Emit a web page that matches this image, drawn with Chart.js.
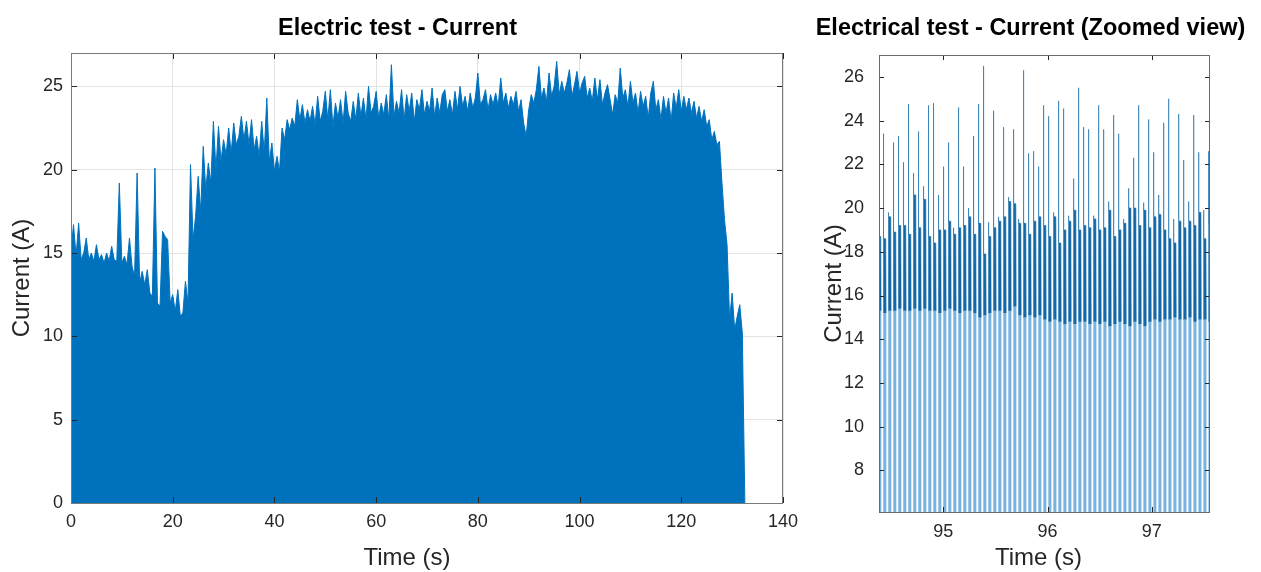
<!DOCTYPE html>
<html>
<head>
<meta charset="utf-8">
<title>Electrical test - Current</title>
<script src="https://cdn.jsdelivr.net/npm/chart.js@4.4.1/dist/chart.umd.min.js"></script>
<style>
  html, body { margin: 0; padding: 0; background: #ffffff; width: 1261px; height: 572px; overflow: hidden; position: relative; }
  .panel { position: absolute; top: 0; height: 572px; }
  #fullPanel { left: -15px; width: 825px; }
  #zoomPanel { left: 800px; width: 461px; }
</style>
</head>
<body>
<div id="zoomPanel" class="panel"><canvas id="zoomChart" width="461" height="572"></canvas></div>
<div id="fullPanel" class="panel"><canvas id="fullChart" width="825" height="572"></canvas></div>
<script>
// ---- Full run: upper envelope of the current, one sample every 0.5 s (A) ----
const fullStep = 0.5;
const fullEnvelope = [
  15.2, 16.7, 14.8, 16.8, 14.6, 15.0, 15.9, 14.6, 15.0, 14.5,   // 0 - 4.5 s
  15.5, 14.6, 14.9, 14.4, 15.0, 14.5, 15.4, 14.6, 14.5, 19.2,   // 5 - 9.5 s
  14.4, 14.8, 14.3, 15.9, 14.2, 13.6, 19.8, 13.2, 13.9, 13.1,   // 10 - 14.5 s
  14.0, 12.6, 12.4, 20.1, 12.0, 11.8, 16.3, 16.0, 15.8, 12.0,   // 15 - 19.5 s
  12.5, 11.5, 12.8, 11.2, 11.4, 13.3, 12.0, 20.3, 15.8, 17.2,   // 20 - 24.5 s
  19.6, 17.5, 21.4, 18.8, 20.4, 19.2, 22.9, 20.0, 22.6, 20.5,   // 25 - 29.5 s
  21.8, 20.9, 22.5, 21.0, 22.8, 21.5, 22.0, 23.2, 21.8, 22.9,   // 30 - 34.5 s
  21.5, 23.0, 21.2, 22.0, 20.8, 22.9, 21.0, 24.3, 20.5, 21.6,   // 35 - 39.5 s
  19.9, 20.8, 19.9, 22.5, 21.8, 23.0, 22.4, 23.1, 22.6, 24.2,   // 40 - 44.5 s
  23.0, 23.9, 22.8, 23.6, 22.9, 23.8, 22.7, 24.4, 22.9, 23.5,   // 45 - 49.5 s
  24.7, 23.0, 24.8, 22.6, 24.0, 23.1, 24.2, 22.8, 24.7, 23.4,   // 50 - 54.5 s
  22.9, 24.1, 23.0, 24.6, 23.2, 24.3, 23.0, 25.0, 23.4, 23.8,   // 55 - 59.5 s
  24.7, 23.1, 24.0, 23.3, 24.5, 23.0, 26.3, 23.2, 24.1, 23.4,   // 60 - 64.5 s
  24.8, 23.0, 24.5, 23.5, 24.6, 22.9, 24.2, 23.6, 24.8, 23.3,   // 65 - 69.5 s
  24.1, 23.5, 24.9, 23.2, 24.3, 23.4, 24.5, 24.8, 23.5, 24.2,   // 70 - 74.5 s
  23.3, 24.7, 23.6, 25.0, 23.8, 24.4, 23.5, 24.6, 23.7, 24.3,   // 75 - 79.5 s
  25.8, 23.9, 24.2, 24.8, 23.6, 24.5, 23.9, 24.6, 23.8, 25.5,   // 80 - 84.5 s
  24.0, 24.6, 23.7, 24.4, 23.9, 24.7, 23.5, 24.2, 22.8, 22.0,   // 85 - 89.5 s
  23.6, 24.5, 24.0, 24.8, 26.2, 24.3, 24.9, 24.1, 25.8, 24.4,   // 90 - 94.5 s
  25.0, 26.5, 24.5, 25.3, 24.6, 25.2, 26.0, 24.4, 25.1, 25.9,   // 95 - 99.5 s
  24.6, 25.2, 25.6, 24.3, 24.9, 24.1, 25.5, 24.2, 25.4, 23.9,   // 100 - 104.5 s
  24.6, 25.1, 24.2, 23.3, 24.5, 24.0, 26.1, 24.3, 24.8, 23.8,   // 105 - 109.5 s
  25.3, 24.0, 24.6, 23.4, 24.7, 23.8, 24.4, 23.1, 24.6, 25.3,   // 110 - 114.5 s
  23.6, 24.2, 23.0, 24.4, 23.4, 24.3, 22.9, 24.6, 23.7, 24.8,   // 115 - 119.5 s
  23.5, 24.4, 23.6, 24.3, 23.4, 24.1, 23.1, 23.8, 22.9, 23.6,   // 120 - 124.5 s
  22.6, 23.0, 21.8, 22.3, 21.5, 21.7, 19.2, 17.0, 15.5, 11.0,   // 125 - 129.5 s
  12.6, 10.4, 11.2, 11.9, 10.2, 0                               // 130 - 132.5 s
];
const fullXTicks = [0, 20, 40, 60, 80, 100, 120, 140];
const fullYTicks = [0, 5, 10, 15, 20, 25];

// ---- Zoomed window: one current pulse every 48 ms ----
const zoomFirstPulse = 94.376;   // s
const zoomPulsePeriod = 0.048;   // s
const pulseOnTime = 0.029;       // s, conduction part of each pulse
// peak of each pulse (A)
const pulsePeak = [
  18.8,
  23.4, 19.8, 23.0, 23.3, 22.1, 24.75, 21.6, 23.5, 21.0, 24.7,
  24.8, 20.6, 21.9, 23.0, 19.1, 24.6, 21.9, 20.0, 23.3, 24.75,
  26.5, 19.35, 24.45, 19.6, 23.7, 20.5, 23.6, 19.5, 26.3, 22.5,
  22.6, 21.9, 24.7, 24.2, 19.8, 24.9, 24.55, 19.65, 21.35, 25.5,
  23.7, 23.6, 19.65, 24.7, 23.6, 20.3, 24.25, 23.4, 19.5, 20.9,
  22.3, 24.7, 20.25, 24.05, 22.55, 20.6, 23.9, 25.0, 19.5, 24.3,
  22.2, 20.3, 24.25, 22.55, 19.9, 22.6
];
// level held after the peak (A)
const pulseShoulder = [
  18.7,
  18.6, 19.6, 18.9, 19.2, 19.2, 18.8, 20.6, 19.1, 20.4, 18.7,
  18.4, 19.0, 19.0, 19.4, 18.8, 19.1, 19.2, 19.6, 18.8, 19.3,
  17.9, 18.7, 19.1, 19.4, 19.6, 20.3, 20.2, 19.3, 19.3, 18.8,
  19.4, 19.6, 19.2, 18.7, 19.6, 18.4, 19.0, 19.4, 19.9, 19.0,
  19.2, 19.1, 19.5, 19.0, 19.1, 19.9, 18.7, 19.0, 19.3, 20.0,
  20.0, 19.2, 19.9, 19.1, 19.6, 19.7, 19.0, 18.6, 18.4, 19.4,
  19.1, 19.4, 19.2, 19.8, 18.6, 19.3
];
// level just before the current drops back (A)
const pulseTrough = [
  15.3,
  15.2, 15.3, 15.3, 15.4, 15.3, 15.3, 15.4, 15.3, 15.4, 15.3,
  15.3, 15.2, 15.3, 15.4, 15.3, 15.2, 15.3, 15.3, 15.2, 15.0,
  15.1, 15.2, 15.3, 15.3, 15.2, 15.3, 15.5, 15.1, 15.0, 15.1,
  15.0, 15.1, 14.9, 14.8, 14.9, 14.8, 14.7, 14.8, 14.7, 14.8,
  14.8, 14.7, 14.8, 14.7, 14.8, 14.6, 14.7, 14.8, 14.7, 14.6,
  14.8, 14.7, 14.6, 14.8, 14.9, 14.8, 14.9, 14.9, 15.0, 14.9,
  14.9, 15.0, 14.8, 14.9, 14.9, 14.8
];
const zoomXTicks = [95, 96, 97];
const zoomYTicks = [8, 10, 12, 14, 16, 18, 20, 22, 24, 26];

// ---- shared styling ----
const FONT = '"Liberation Sans", Arial, Helvetica, sans-serif';
const LINE_BLUE = '#0072BD';
const PULSE_TOP = '#1268a8';
const PULSE_BODY = '#78b2de';
const TEXT_DARK = '#262626';

// Box around the plot area plus inward tick marks on all four sides
const axesBox = {
  id: 'axesBox',
  afterDatasetsDraw(chart, args, opts) {
    const { ctx, chartArea: a, scales } = chart;
    const L = opts.tickLength;
    ctx.save();
    ctx.lineWidth = 1;
    ctx.strokeStyle = opts.tickColor;
    ctx.beginPath();
    scales.x.ticks.forEach(t => {
      const px = Math.round(scales.x.getPixelForValue(t.value)) + 0.5;
      ctx.moveTo(px, a.bottom); ctx.lineTo(px, a.bottom - L);
      ctx.moveTo(px, a.top); ctx.lineTo(px, a.top + L);
    });
    scales.y.ticks.forEach(t => {
      const py = Math.round(scales.y.getPixelForValue(t.value)) + 0.5;
      ctx.moveTo(a.left, py); ctx.lineTo(a.left + L, py);
      ctx.moveTo(a.right, py); ctx.lineTo(a.right - L, py);
    });
    ctx.stroke();
    ctx.strokeStyle = opts.color;
    ctx.strokeRect(Math.round(a.left) + 0.5, Math.round(a.top) + 0.5,
                   Math.round(a.width) - 1, Math.round(a.height));
    ctx.restore();
  }
};

// x-axis caption, placed below the tick labels
const xCaption = {
  id: 'xCaption',
  afterDraw(chart, args, opts) {
    const { ctx, chartArea: a } = chart;
    ctx.save();
    ctx.font = `${opts.size}px ${FONT}`;
    ctx.fillStyle = TEXT_DARK;
    ctx.textAlign = 'center';
    ctx.textBaseline = 'middle';
    ctx.fillText(opts.text, (a.left + a.right) / 2 + opts.shift, a.bottom + opts.below);
    ctx.restore();
  }
};

function fixedTicks(list) {
  return scale => { scale.ticks = list.map(v => ({ value: v })); };
}
// fixed axis box sizes; the right-hand gap comes from the x scale padding
function xBox(height, rightGap) {
  return s => { s.height = height; s.paddingLeft = 0; s.paddingRight = rightGap; };
}
function yBox(width) {
  return s => { s.width = width; s.paddingTop = 0; s.paddingBottom = 0; };
}

// ---------------- full run ----------------
const fullPoints = fullEnvelope.map((v, i) => ({ x: i * fullStep, y: v }));

new Chart(document.getElementById('fullChart'), {
  type: 'line',
  data: {
    datasets: [{
      data: fullPoints,
      borderColor: LINE_BLUE,
      backgroundColor: LINE_BLUE,
      borderWidth: 1,
      pointRadius: 0,
      tension: 0,
      fill: 'origin'
    }]
  },
  options: {
    responsive: false,
    animation: false,
    events: [],
    layout: { padding: 0 },
    plugins: {
      legend: { display: false },
      tooltip: { enabled: false },
      title: {
        display: true,
        text: 'Electric test - Current',
        color: '#000000',
        font: { family: FONT, size: 23.5, weight: 'bold' },
        padding: { top: 14, bottom: 10.8 }
      },
      axesBox: { tickLength: 6, tickColor: TEXT_DARK, color: '#7a7a7a' },
      xCaption: { text: 'Time (s)', size: 24, shift: -20, below: 55 }
    },
    scales: {
      x: {
        type: 'linear',
        min: 0, max: 140,
        afterBuildTicks: fixedTicks(fullXTicks),
        afterFit: xBox(69, 27),
        grid: { color: '#e3e3e3', drawTicks: false },
        border: { display: false },
        ticks: { color: TEXT_DARK, font: { family: FONT, size: 18 }, padding: 8, maxRotation: 0, autoSkip: false }
      },
      y: {
        type: 'linear',
        min: 0, max: 27,
        afterBuildTicks: fixedTicks(fullYTicks),
        afterFit: yBox(86),
        grid: { color: '#e3e3e3', drawTicks: false },
        border: { display: false },
        ticks: { color: TEXT_DARK, font: { family: FONT, size: 18 }, padding: 8, autoSkip: false },
        title: { display: true, text: 'Current (A)', color: TEXT_DARK, font: { family: FONT, size: 24 }, padding: { top: 22.6, bottom: 0 } }
      }
    }
  },
  plugins: [axesBox, xCaption]
});

// ---------------- zoomed window ----------------
// lower part of each pulse (0 up to the trough level) and the upper part above it
const pulseBody = [];
const pulseTop = [];
pulsePeak.forEach((peak, i) => {
  const t = zoomFirstPulse + i * zoomPulsePeriod;
  const tEnd = t + pulseOnTime;
  pulseBody.push(
    { x: t,    y: 0 },
    { x: t,    y: pulseTrough[i] },
    { x: tEnd, y: pulseTrough[i] },
    { x: tEnd, y: 0 }
  );
  pulseTop.push(
    { x: t,            y: pulseTrough[i] },
    { x: t + 0.001,    y: peak },
    { x: t + 0.004,    y: pulseShoulder[i] },
    { x: tEnd - 0.005, y: pulseShoulder[i] },
    { x: tEnd - 0.002, y: pulseTrough[i] },
    { x: tEnd,         y: null }
  );
});

new Chart(document.getElementById('zoomChart'), {
  type: 'line',
  data: {
    datasets: [{
      data: pulseTop,
      borderColor: PULSE_TOP,
      backgroundColor: PULSE_TOP,
      borderWidth: 0.6,
      pointRadius: 0,
      tension: 0,
      spanGaps: false,
      fill: 'shape'
    }, {
      data: pulseBody,
      borderColor: PULSE_BODY,
      backgroundColor: PULSE_BODY,
      borderWidth: 0,
      pointRadius: 0,
      tension: 0,
      fill: 'origin'
    }]
  },
  options: {
    responsive: false,
    animation: false,
    events: [],
    layout: { padding: 0 },
    plugins: {
      legend: { display: false },
      tooltip: { enabled: false },
      title: {
        display: true,
        text: 'Electrical test - Current (Zoomed view)',
        color: '#000000',
        font: { family: FONT, size: 23.5, weight: 'bold' },
        padding: { top: 14, bottom: 12.8 }
      },
      axesBox: { tickLength: 5, tickColor: TEXT_DARK, color: '#6a6a6a' },
      xCaption: { text: 'Time (s)', size: 24, shift: -6, below: 46 }
    },
    scales: {
      x: {
        type: 'linear',
        min: 94.383, max: 97.559,
        afterBuildTicks: fixedTicks(zoomXTicks),
        afterFit: xBox(60, 51),
        grid: { display: false },
        border: { display: false },
        ticks: { color: TEXT_DARK, font: { family: FONT, size: 18 }, padding: 1, maxRotation: 0, autoSkip: false }
      },
      y: {
        type: 'linear',
        min: 6.1, max: 27,
        afterBuildTicks: fixedTicks(zoomYTicks),
        afterFit: yBox(79),
        grid: { display: false },
        border: { display: false },
        ticks: { color: TEXT_DARK, font: { family: FONT, size: 18 }, padding: 7, autoSkip: false },
        title: { display: true, text: 'Current (A)', color: TEXT_DARK, font: { family: FONT, size: 24 }, padding: { top: 19.6, bottom: 0 } }
      }
    }
  },
  plugins: [axesBox, xCaption]
});
</script>
</body>
</html>
